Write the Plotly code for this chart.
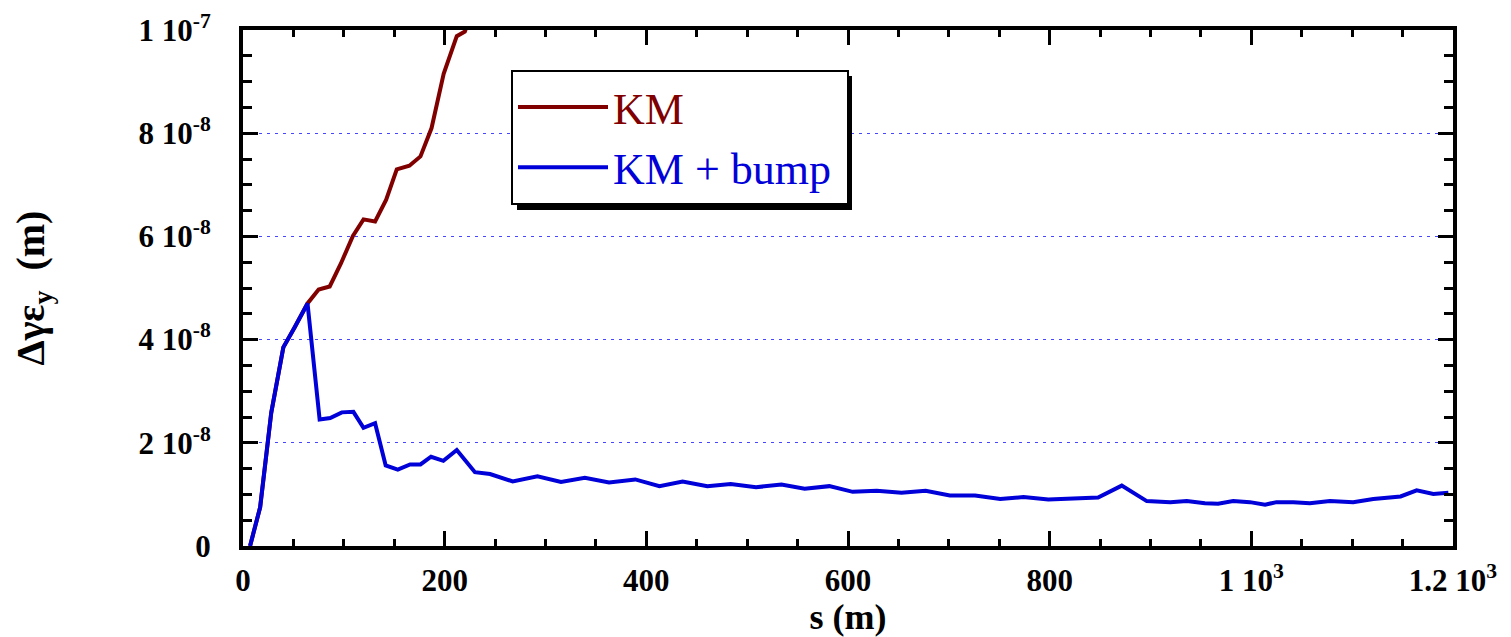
import plotly.graph_objects as go

# ---- data ----
km_s = [7, 17, 28, 40, 51, 64, 75, 86, 97, 109, 119.5, 131, 142, 152.5, 165, 176, 187, 199, 212, 220, 232]
km_e = [0.0, 0.75e-8, 2.58e-8, 3.85e-8, 4.23e-8, 4.70e-8, 4.97e-8, 5.03e-8, 5.47e-8, 6.01e-8,
        6.33e-8, 6.29e-8, 6.71e-8, 7.30e-8, 7.37e-8, 7.55e-8, 8.10e-8, 9.15e-8, 9.88e-8, 9.97e-8, 1.06e-7]

bump_s = [7, 17, 28, 40, 51, 64, 76, 86.5, 98, 109.5, 119.5, 131, 141.5, 153.5, 165.7, 176, 186.5,
          198.7, 212, 230, 245, 267.5, 292, 315.4, 339, 363, 389, 413, 436, 460.5, 483.7, 508.8,
          534, 557, 581.5, 604.7, 628.5, 653, 677, 701, 726, 751, 774, 798.7, 823.5, 848, 871.5,
          896.3, 919.6, 936, 954, 967, 982, 998.6, 1013.6, 1025, 1041.6, 1058, 1078, 1101, 1121,
          1148, 1164, 1180.5, 1195.4]
bump_e = [0.0, 0.75, 2.58, 3.85, 4.23, 4.70, 2.45, 2.48, 2.59, 2.60, 2.29, 2.38, 1.56, 1.48, 1.58,
          1.58, 1.73, 1.65, 1.86, 1.43, 1.395, 1.25, 1.35, 1.24, 1.32, 1.23, 1.29, 1.16, 1.25, 1.16,
          1.20, 1.14, 1.19, 1.11, 1.16, 1.05, 1.07, 1.03, 1.07, 0.98, 0.98, 0.91, 0.95, 0.90, 0.92,
          0.94, 1.17, 0.87, 0.85, 0.87, 0.83, 0.82, 0.87, 0.85, 0.80, 0.85, 0.85, 0.83, 0.87, 0.85,
          0.91, 0.96, 1.08, 1.01, 1.03]
bump_e = [v * 1e-8 for v in bump_e]

x_tickvals = [0, 200, 400, 600, 800, 1000, 1200]
x_ticktext = ["0", "200", "400", "600", "800", "1 10<sup>3</sup>", "1.2 10<sup>3</sup>"]
x_minor = [v for v in range(50, 1200, 50) if v % 200 != 0]

y_tickvals = [0, 2e-8, 4e-8, 6e-8, 8e-8, 1e-7]
y_ticktext = ["0", "2 10<sup>-8</sup>", "4 10<sup>-8</sup>", "6 10<sup>-8</sup>",
              "8 10<sup>-8</sup>", "1 10<sup>-7</sup>"]
y_minor = [i * 5e-9 for i in range(1, 20) if i % 4 != 0]

RED = "#800000"
BLUE = "#0000d8"

# figure geometry (page body has an 8px margin)
W, H = 1503, 629
ML, MR, MT, MB = 235, 58, 22, 91
PW, PH = W - ML - MR, H - MT - MB

fig = go.Figure()
fig.add_trace(go.Scatter(x=km_s, y=km_e, mode="lines",
                         line=dict(color=RED, width=4),
                         name='<span style="color:#800000">KM</span>'))
fig.add_trace(go.Scatter(x=bump_s, y=bump_e, mode="lines",
                         line=dict(color=BLUE, width=4),
                         name='<span style="color:#0000d8">KM + bump\u00a0</span>'))

tickfont = dict(family="Liberation Serif", size=31, color="black", weight=700)

fig.update_xaxes(
    range=[0, 1200], tickmode="array", tickvals=x_tickvals, ticktext=x_ticktext,
    tickfont=tickfont, ticks="inside", ticklen=15, tickwidth=3, tickcolor="black",
    showline=True, linewidth=4, linecolor="black", mirror="allticks",
    showgrid=False, zeroline=False, ticklabelstandoff=4,
    minor=dict(tickvals=x_minor, ticks="inside", ticklen=7, tickwidth=3,
               tickcolor="black", showgrid=False),
    title=dict(text="s (m)", font=dict(family="Liberation Serif", size=36,
                                        color="black", weight=700), standoff=8),
)
fig.update_yaxes(
    range=[0, 1e-7], tickmode="array", tickvals=y_tickvals, ticktext=y_ticktext,
    tickfont=tickfont, ticks="inside", ticklen=15, tickwidth=3, tickcolor="black",
    showline=True, linewidth=4, linecolor="black", mirror="allticks",
    showgrid=True, gridcolor="rgb(70,70,255)", gridwidth=1, griddash="3px,5px",
    zeroline=False, ticklabelstandoff=22,
    minor=dict(tickvals=y_minor, ticks="inside", ticklen=9, tickwidth=3,
               tickcolor="black", showgrid=False),
    title=dict(text="Δγε<sub>y</sub>\u00a0\u00a0(m)",
               font=dict(family="Liberation Serif", size=40, color="black", weight=700),
               standoff=88),
)

# legend placement and its drop shadow (offset 6px)
LEG_X, LEG_Y = 511, 70          # top-left of legend box in page pixels
LEG_W, LEG_H = 335, 134         # approximate rendered legend size
lx = (LEG_X - 8 - ML) / PW
ly = 1 - (LEG_Y - 8 - MT) / PH
fig.add_shape(type="rect", xref="paper", yref="paper",
              x0=lx + 6 / PW, x1=lx + (LEG_W + 6) / PW,
              y0=ly - (LEG_H + 6) / PH, y1=ly - 6 / PH,
              fillcolor="black", line=dict(width=0), layer="above")

fig.update_layout(
    width=W, height=H,
    margin=dict(l=ML, r=MR, t=MT, b=MB, autoexpand=False),
    paper_bgcolor="white", plot_bgcolor="white",
    showlegend=True,
    legend=dict(x=lx, y=ly, xanchor="left", yanchor="top",
                bgcolor="white", bordercolor="black", borderwidth=2,
                font=dict(family="Liberation Serif", size=44, color="black"),
                itemwidth=90, tracegroupgap=0),
)

fig.write_html("out.html")
